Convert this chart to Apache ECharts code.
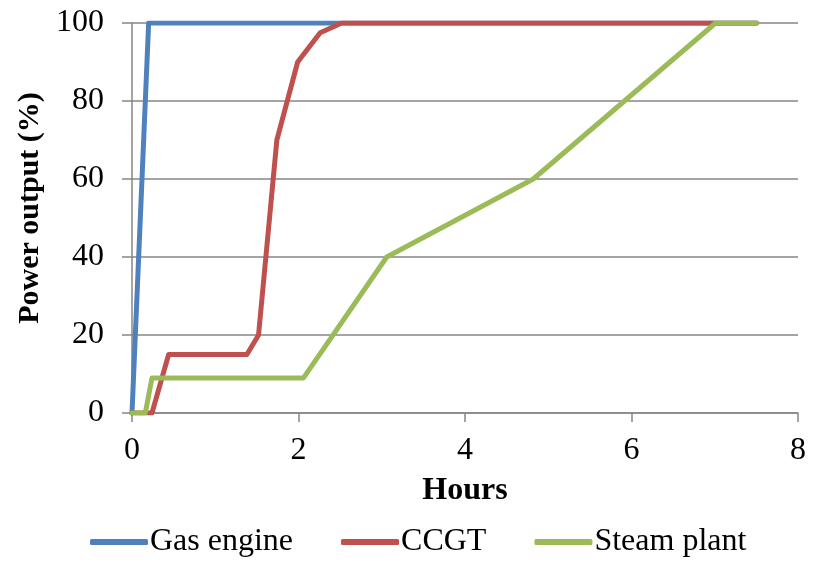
<!DOCTYPE html>
<html>
<head>
<meta charset="utf-8">
<script src="https://cdn.jsdelivr.net/npm/echarts@6/dist/echarts.min.js"></script>
<style>html,body{margin:0;padding:0;background:#fff}#c{width:819px;height:574px}</style>
</head>
<body>
<div id="c"></div>
<script>
const seriesNames = ['Gas engine', 'CCGT', 'Steam plant'];
const gasEngine = [[0, 0], [0.2, 100], [7.5, 100]];
const ccgt = [[0, 0], [0.24, 0], [0.44, 15], [1.38, 15], [1.52, 20], [1.74, 70], [1.99, 90], [2.26, 97.5], [2.52, 100], [7.5, 100]];
const steamPlant = [[0, 0], [0.16, 0], [0.24, 9], [2.06, 9], [3.06, 40], [4.82, 60], [7.01, 100], [7.5, 100]];
const colors = ['#4F81BD', '#C0504D', '#9BBB59'];
const font = 'Liberation Serif';

const chart = echarts.init(document.getElementById('c'));
const mk = (name, data, color) => ({
  name, type: 'line', data, symbol: 'none', color,
  lineStyle: { width: 5, color, cap: 'round', join: 'round' }
});
chart.setOption({
  animation: false,
  textStyle: { fontFamily: font },
  grid: { left: 132, right: 21, top: 23, bottom: 161 },
  legend: {
    top: 521, left: 85,
    icon: 'roundRect', itemWidth: 58, itemHeight: 6, itemGap: 48,
    textStyle: { fontFamily: font, fontSize: 32, color: '#000', padding: [0, 0, 0, -3] },
    data: seriesNames
  },
  xAxis: {
    type: 'value', min: 0, max: 8, interval: 2,
    name: 'Hours', nameLocation: 'middle', nameGap: 62,
    nameTextStyle: { fontFamily: font, fontSize: 32, fontWeight: 'bold', color: '#000' },
    axisLine: { show: true, lineStyle: { color: '#868686', width: 1.5 } },
    axisTick: { show: true, length: 9, lineStyle: { color: '#868686', width: 1.5 } },
    axisLabel: { fontFamily: font, fontSize: 32, color: '#000', margin: 22 },
    splitLine: { show: false }
  },
  yAxis: {
    type: 'value', min: 0, max: 100, interval: 20,
    name: 'Power output (%)', nameLocation: 'middle', nameGap: 86, nameRotate: 90,
    nameTextStyle: { fontFamily: font, fontSize: 30, fontWeight: 'bold', color: '#000', padding: [0, 0, 0, 20] },
    axisLine: { show: true, lineStyle: { color: '#868686', width: 1.5 } },
    axisTick: { show: true, length: 10, lineStyle: { color: '#868686', width: 1.5 } },
    axisLabel: { fontFamily: font, fontSize: 32, color: '#000', margin: 28 },
    splitLine: { show: true, lineStyle: { color: '#868686', width: 1.5 } }
  },
  series: [
    mk(seriesNames[0], gasEngine, colors[0]),
    mk(seriesNames[1], ccgt, colors[1]),
    mk(seriesNames[2], steamPlant, colors[2])
  ]
});
</script>
</body>
</html>
